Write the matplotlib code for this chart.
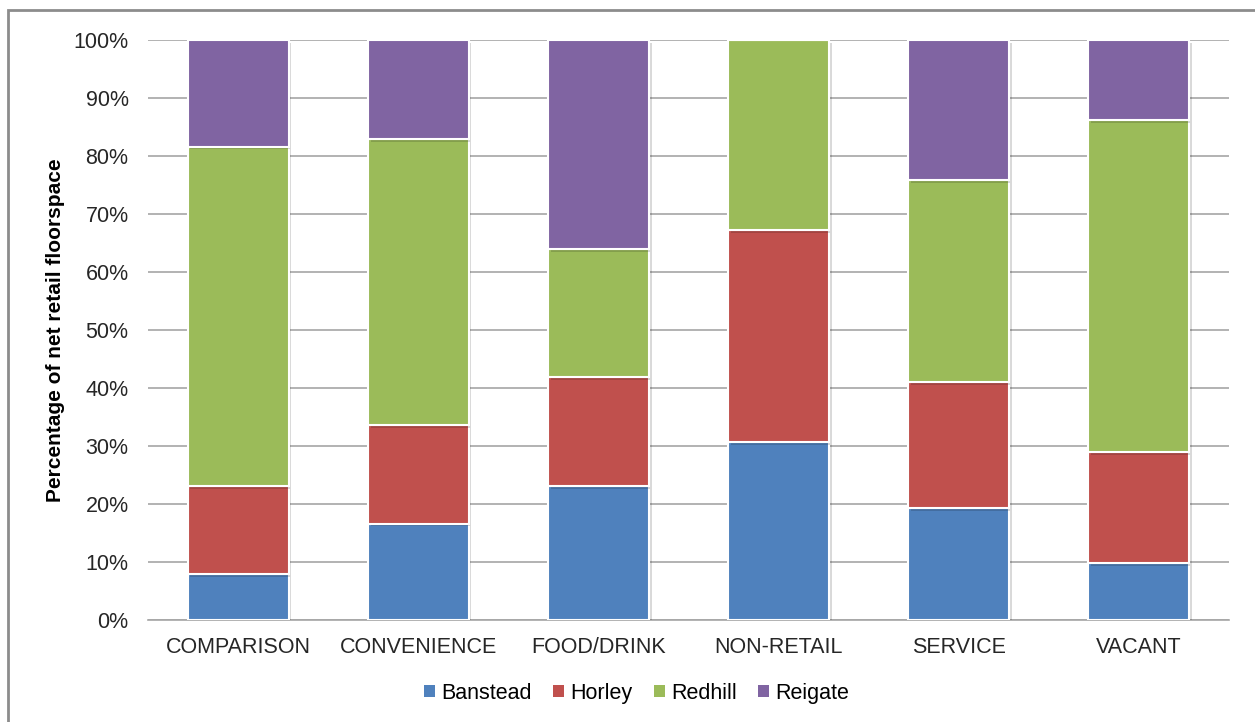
import numpy as np
import matplotlib.pyplot as plt
import matplotlib
from matplotlib.patches import Rectangle, Patch
from matplotlib.ticker import FuncFormatter
import matplotlib.patheffects as pe

matplotlib.rcParams['font.family'] = ['Liberation Sans', 'DejaVu Sans']
matplotlib.rcParams['font.size'] = 15.5

# share of net retail floorspace (%) per use class and town
categories = ['COMPARISON', 'CONVENIENCE', 'FOOD/DRINK', 'NON-RETAIL', 'SERVICE', 'VACANT']
banstead = [7.9, 16.6, 23.1, 30.7, 19.3, 9.8]
horley = [15.2, 17.0, 18.8, 36.5, 21.7, 19.2]
redhill = [58.5, 49.3, 22.1, 32.8, 34.9, 57.2]
reigate = [18.4, 17.1, 36.0, 0.0, 24.1, 13.8]

series = [('Banstead', banstead, '#4f81bd'),
          ('Horley', horley, '#c0504d'),
          ('Redhill', redhill, '#9bbb59'),
          ('Reigate', reigate, '#8064a2')]

fig = plt.figure(figsize=(12.55, 7.22), dpi=100)
ax = fig.add_axes([148 / 1255, 1 - 620 / 722, (1229 - 148) / 1255, 580 / 722])

# outer chart border
fig.patches.append(Rectangle((8 / 1255, -0.05), 1.2, 0.05 + 1 - 10 / 722,
                             transform=fig.transFigure, fill=False,
                             edgecolor='#8c8c8c', linewidth=2))

x = np.arange(len(categories))
bottom = np.zeros(len(categories))
shadow = [pe.SimplePatchShadow(offset=(2, -2), alpha=0.15, shadow_rgbFace='black'), pe.Normal()]
handles = []
for name, vals, color in series:
    vals = np.array(vals)
    bars = ax.bar(x, vals, bottom=bottom, width=0.56, color=color,
                  edgecolor='white', linewidth=1.5, zorder=3)
    for b in bars:
        b.set_path_effects(shadow)
    bottom += vals
    handles.append(Patch(facecolor=color, edgecolor='none', label=name))

ax.set_xlim(-0.5, len(categories) - 0.5)
ax.set_ylim(0, 100)
ax.set_yticks(np.arange(0, 101, 10))
ax.yaxis.set_major_formatter(FuncFormatter(lambda v, p: f'{v:.0f}%'))
ax.set_xticks(x)
ax.set_xticklabels(categories)
ax.grid(axis='y', color='#a6a6a6', linewidth=1.2, zorder=0)
ax.set_axisbelow(True)
for s in ['top', 'right', 'left']:
    ax.spines[s].set_visible(False)
ax.spines['bottom'].set_color('#a6a6a6')
ax.spines['bottom'].set_linewidth(1.2)
ax.tick_params(length=0, colors='#262626', labelsize=15.5)
ax.tick_params(axis='y', pad=14)
ax.tick_params(axis='x', pad=12)

ax.set_ylabel('Percentage of net retail floorspace', fontweight='bold', fontsize=15, labelpad=6)

ax.legend(handles=handles, loc='center', bbox_to_anchor=(0.452, -0.126), ncol=4, frameon=False,
          handlelength=0.5, handleheight=0.5, handletextpad=0.3, columnspacing=1.0,
          fontsize=15.5)

plt.savefig('out.png', dpi=100)
